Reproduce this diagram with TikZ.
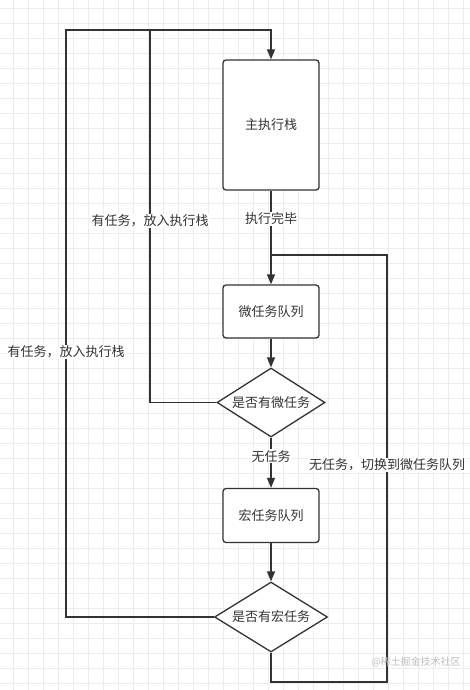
\documentclass[tikz,border=0pt]{standalone}
\usepackage{fontspec}
\setmainfont{Noto Sans CJK SC}
\usetikzlibrary{arrows.meta,shapes.geometric,calc}
\definecolor{ink}{RGB}{51,51,51}
\definecolor{gridgray}{RGB}{236,236,236}
\tikzset{
  >={Triangle[length=10pt,width=8pt]},
  qbox/.style={draw=ink,fill=white,rounded corners=3pt,line width=1.3pt,
    minimum width=96pt,font=\fontsize{13}{15}\selectfont,text=ink,align=center},
  check/.style={diamond,draw=ink,fill=white,line width=1.3pt,aspect=1.56,inner sep=0pt,
    minimum width=108pt,minimum height=69pt,font=\fontsize{13}{15}\selectfont,text=ink},
  flow/.style={draw=ink,line width=1.3pt},
  tag/.style={fill=white,inner sep=1pt,font=\fontsize{13}{15}\selectfont,text=ink},
  gridline/.style={draw=gridgray,line width=0.6pt},
}
\begin{document}
\begin{tikzpicture}[x=1pt,y=1pt]
  \useasboundingbox (0,0) rectangle (470,-690);
  \fill[white] (0,0) rectangle (470,-690);
  % background grid
  \foreach \i in {0,...,30} \draw[gridline] ({13+15*\i},0) -- ({13+15*\i},-690);
  \foreach \i in {0,...,45} \draw[gridline] (0,{-8-15*\i}) -- (470,{-8-15*\i});

  \node[qbox,minimum height=130pt] (stack) at (271,-125) {主执行栈};
  \node[qbox,minimum height=53pt] (micro) at (271,-311.5) {微任务队列};
  \node[check] (hasmicro) at (271,-402.5) {是否有微任务};
  \node[qbox,minimum height=54pt] (macro) at (271,-515.5) {宏任务队列};
  \node[check,minimum width=113pt,minimum height=70pt] (hasmacro) at (271,-617) {是否有宏任务};

  \coordinate (topA) at (150,-30);
  \coordinate (topB) at (66,-30);
  \coordinate (join) at (271,-255);
  \coordinate (loopB) at (387,-682);

  \draw[flow,->] (stack.south) -- node[tag,pos=0.3]{执行完毕} (micro.north);
  \draw[flow,->] (micro) -- (hasmicro);
  \draw[flow,->] (hasmicro.south) -- node[tag,pos=0.37]{无任务} (macro.north);
  \draw[flow,->] (macro) -- (hasmacro);

  \draw[flow,->] (hasmicro.west) -| (topA) -| (stack.north);
  \draw[flow] (hasmacro.west) -| (topB) -- (topA);
  \draw[flow] (hasmacro.south) |- (loopB) |- (join);

  \node[tag] (back1) at (150,-221) {有任务，放入执行栈};
  \node[tag] (back2) at (66,-352) {有任务，放入执行栈};
  \node[tag] (switch) at (387,-465) {无任务，切换到微任务队列};
  \node[font=\fontsize{10}{12}\selectfont,text=black!25] (mark) at (416,-662) {@稀土掘金技术社区};
\end{tikzpicture}
\end{document}
